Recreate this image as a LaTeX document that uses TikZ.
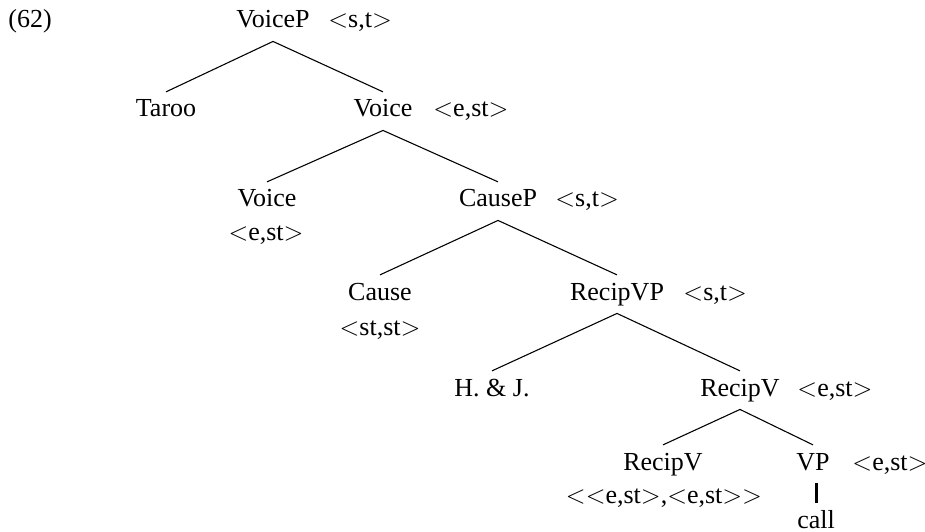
\documentclass[tikz,border=0pt,12pt]{standalone}
\usepackage{fontspec}
\setmainfont{Liberation Serif}
\usetikzlibrary{positioning}

\begin{document}
\begin{tikzpicture} [
            x=0.4615pt, y=-0.4615pt,
            cat/.style={anchor=base,inner xsep=0pt,inner ysep=3.5pt,
                text height=7.9pt,text depth=2.5pt},
            type/.style={anchor=base west,inner sep=0pt},
            typebelow/.style={anchor=base,inner sep=0pt},
            branch/.style = {draw,line width=0.5pt,-},
        ]
        \useasboundingbox (0,0) rectangle (925,531);
        \node[anchor=base west,inner sep=0pt] (num) at (8,28) {(62)};
        % categories
        \foreach \pos/\name/\word in {
                {(273,28)/voicep/VoiceP}, {(166,117)/taroo/Taroo}, {(383,117)/voice/Voice},
                {(267,207)/voicehd/Voice}, {(498,207)/causep/CauseP},
                {(380,300)/cause/Cause}, {(617,300)/recipvp/RecipVP},
                {(492,396)/hj/H.~\& J.}, {(740,396)/recipv/RecipV},
                {(663,470)/reciphd/RecipV}, {(813,470)/vp/VP}, {(816,528)/call/call}}
            \node[cat] (\name) at \pos {\word};
        % types
        \foreach \pos/\name/\word in {
                {(328,28)/voicept/$<$s,t$>$}, {(433,117)/voicet/$<$e,st$>$},
                {(555,207)/causept/$<$s,t$>$}, {(683,300)/recipvpt/$<$s,t$>$},
                {(797,396)/recipvt/$<$e,st$>$}, {(852,470)/vpt/$<$e,st$>$}}
            \node[type] (\name) at \pos {\word};
        \foreach \pos/\name/\word in {
                {(266,240)/voicehdt/$<$e,st$>$}, {(380,335)/causet/$<$st,st$>$},
                {(664,503)/reciphdt/$<<$e,st$>$,$<$e,st$>>$}}
            \node[typebelow] (\name) at \pos {\word};
        % branches
        \foreach \source/ \dest in {
                voicep/taroo,voicep/voice,voice/voicehd,voice/causep,
                causep/cause,causep/recipvp,recipvp/hj,recipvp/recipv,
                recipv/reciphd,recipv/vp}
            \path[branch] (\source.south) edge (\dest.north);
        \draw[line width=1.4pt] (call.north) -- (call.north |- vp.south);
    \end{tikzpicture}
\end{document}
